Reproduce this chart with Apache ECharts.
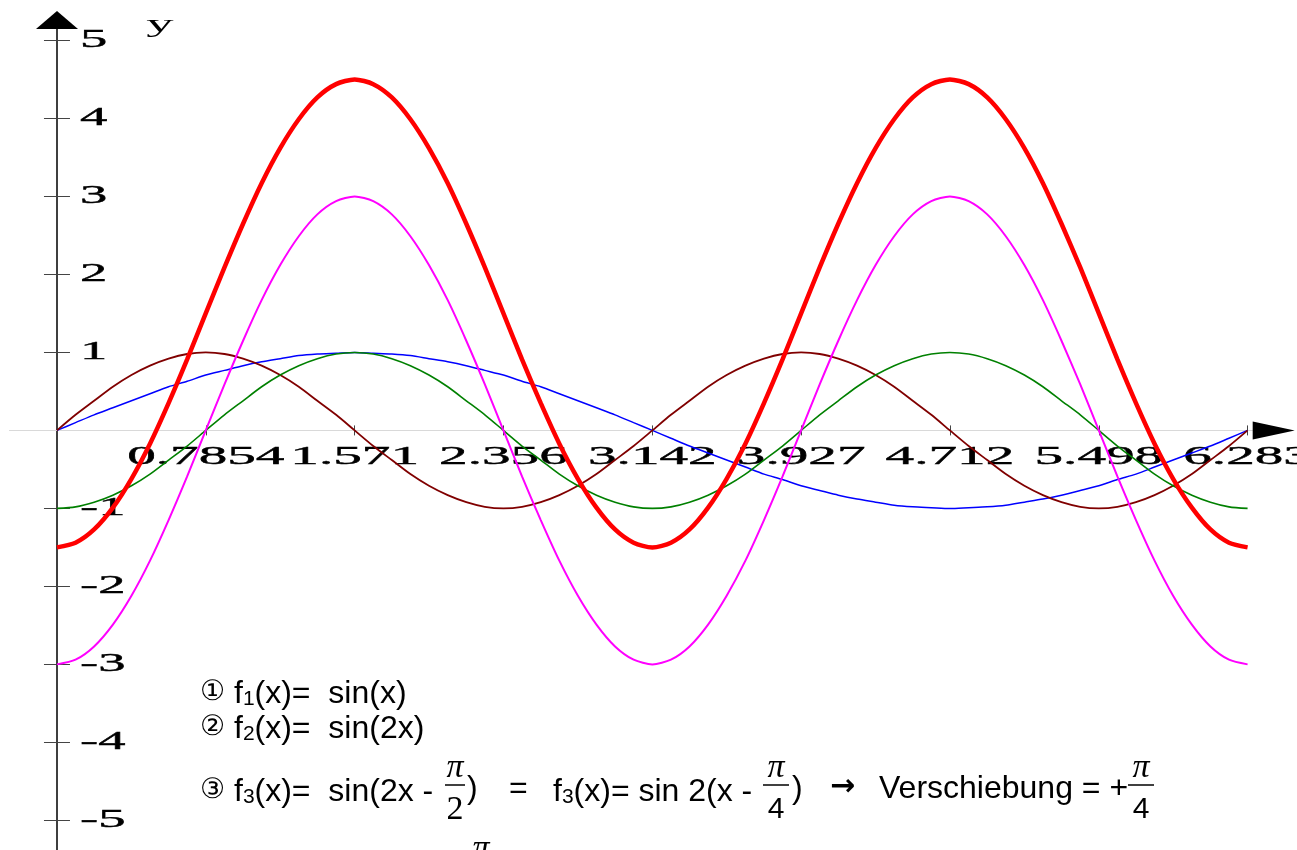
<!DOCTYPE html>
<html>
<head>
<meta charset="utf-8">
<title>Sinusfunktionen</title>
<script src="https://cdn.jsdelivr.net/npm/echarts@6/dist/echarts.min.js"></script>
<style>
  html, body { margin: 0; padding: 0; background: #ffffff; }
  #chart { width: 1297px; height: 850px; }
</style>
</head>
<body>
<div id="chart"></div>
<script>
// Sample positions along x (steps of pi/32 from 0 to 2pi)
const xValues = [0, 0.098, 0.196, 0.295, 0.393, 0.491, 0.589, 0.687, 0.785, 0.884, 0.982, 1.080, 1.178,
  1.276, 1.374, 1.473, 1.571, 1.669, 1.767, 1.865, 1.963, 2.062, 2.160, 2.258, 2.356, 2.454, 2.553, 2.651,
  2.749, 2.847, 2.945, 3.043, 3.142, 3.240, 3.338, 3.436, 3.534, 3.633, 3.731, 3.829, 3.927, 4.025, 4.123,
  4.222, 4.320, 4.418, 4.516, 4.614, 4.712, 4.811, 4.909, 5.007, 5.105, 5.203, 5.301, 5.400, 5.498, 5.596,
  5.694, 5.792, 5.890, 5.989, 6.087, 6.185, 6.283];

// f1(x) = sin(x)
const f1Values = [0, 0.1, 0.2, 0.29, 0.38, 0.47, 0.56, 0.63, 0.71, 0.77, 0.83, 0.88, 0.92, 0.96, 0.98, 0.99, 1,
  0.99, 0.98, 0.96, 0.92, 0.88, 0.83, 0.77, 0.71, 0.63, 0.56, 0.47, 0.38, 0.29, 0.2, 0.1, 0,
  -0.1, -0.2, -0.29, -0.38, -0.47, -0.56, -0.63, -0.71, -0.77, -0.83, -0.88, -0.92, -0.96, -0.98, -0.99, -1,
  -0.99, -0.98, -0.96, -0.92, -0.88, -0.83, -0.77, -0.71, -0.63, -0.56, -0.47, -0.38, -0.29, -0.2, -0.1, 0];

// f2(x) = sin(2x)
const f2Values = [0, 0.2, 0.38, 0.56, 0.71, 0.83, 0.92, 0.98, 1, 0.98, 0.92, 0.83, 0.71, 0.56, 0.38, 0.2, 0,
  -0.2, -0.38, -0.56, -0.71, -0.83, -0.92, -0.98, -1, -0.98, -0.92, -0.83, -0.71, -0.56, -0.38, -0.2, 0,
  0.2, 0.38, 0.56, 0.71, 0.83, 0.92, 0.98, 1, 0.98, 0.92, 0.83, 0.71, 0.56, 0.38, 0.2, 0,
  -0.2, -0.38, -0.56, -0.71, -0.83, -0.92, -0.98, -1, -0.98, -0.92, -0.83, -0.71, -0.56, -0.38, -0.2, 0];

// f3(x) = sin(2x - pi/2)
const f3Values = [-1, -0.98, -0.92, -0.83, -0.71, -0.56, -0.38, -0.2, 0, 0.2, 0.38, 0.56, 0.71, 0.83, 0.92, 0.98, 1,
  0.98, 0.92, 0.83, 0.71, 0.56, 0.38, 0.2, 0, -0.2, -0.38, -0.56, -0.71, -0.83, -0.92, -0.98, -1,
  -0.98, -0.92, -0.83, -0.71, -0.56, -0.38, -0.2, 0, 0.2, 0.38, 0.56, 0.71, 0.83, 0.92, 0.98, 1,
  0.98, 0.92, 0.83, 0.71, 0.56, 0.38, 0.2, 0, -0.2, -0.38, -0.56, -0.71, -0.83, -0.92, -0.98, -1];

// 3 * sin(2x - pi/2)
const f4Values = [-3, -2.94, -2.77, -2.49, -2.12, -1.67, -1.15, -0.59, 0, 0.59, 1.15, 1.67, 2.12, 2.49, 2.77, 2.94, 3,
  2.94, 2.77, 2.49, 2.12, 1.67, 1.15, 0.59, 0, -0.59, -1.15, -1.67, -2.12, -2.49, -2.77, -2.94, -3,
  -2.94, -2.77, -2.49, -2.12, -1.67, -1.15, -0.59, 0, 0.59, 1.15, 1.67, 2.12, 2.49, 2.77, 2.94, 3,
  2.94, 2.77, 2.49, 2.12, 1.67, 1.15, 0.59, 0, -0.59, -1.15, -1.67, -2.12, -2.49, -2.77, -2.94, -3];

// 3 * sin(2x - pi/2) + 1.5
const f5Values = [-1.5, -1.44, -1.27, -0.99, -0.62, -0.17, 0.35, 0.91, 1.5, 2.09, 2.65, 3.17, 3.62, 3.99, 4.27, 4.44, 4.5,
  4.44, 4.27, 3.99, 3.62, 3.17, 2.65, 2.09, 1.5, 0.91, 0.35, -0.17, -0.62, -0.99, -1.27, -1.44, -1.5,
  -1.44, -1.27, -0.99, -0.62, -0.17, 0.35, 0.91, 1.5, 2.09, 2.65, 3.17, 3.62, 3.99, 4.27, 4.44, 4.5,
  4.44, 4.27, 3.99, 3.62, 3.17, 2.65, 2.09, 1.5, 0.91, 0.35, -0.17, -0.62, -0.99, -1.27, -1.44, -1.5];

// Axis ticks and their labels
const xTickValues = [0.7854, 1.571, 2.356, 3.142, 3.927, 4.712, 5.498, 6.283];
const xTickLabels = ['0.7854', '1.571', '2.356', '3.142', '3.927', '4.712', '5.498', '6.283'];
const yTickValues = [-5, -4, -3, -2, -1, 1, 2, 3, 4, 5];
const yTickLabels = ['-5', '-4', '-3', '-2', '-1', '1', '2', '3', '4', '5'];

const X_MIN = -0.25, X_MAX = 6.31, Y_MIN = -5.38, Y_MAX = 5.16;

const chart = echarts.init(document.getElementById('chart'), null, { renderer: 'canvas' });

function pairs(values) {
  return xValues.map((x, i) => [x, values[i]]);
}

function curve(name, values, color, width) {
  return {
    name: name,
    type: 'line',
    data: pairs(values),
    smooth: 0.25,
    symbol: 'none',
    clip: false,
    lineStyle: { color: color, width: width },
    emphasis: { disabled: true },
    z: 3
  };
}

const tickStyle = { color: '#444', width: 1 };

chart.setOption({
  animation: false,
  backgroundColor: '#ffffff',
  grid: { left: 9.6, top: 28, width: 1243.1, bottom: 0, containLabel: false },
  xAxis: [
    {
      type: 'value', min: X_MIN, max: X_MAX, position: 'bottom',
      axisLine: { show: true, onZero: true, lineStyle: { color: '#d9d9d9', width: 1 } },
      axisTick: { show: true, customValues: xTickValues, length: 5, lineStyle: tickStyle },
      axisLabel: { show: false },
      splitLine: { show: false }
    },
    {
      type: 'value', min: X_MIN, max: X_MAX, position: 'top',
      axisLine: { show: true, onZero: true, lineStyle: { color: '#d9d9d9', width: 1 } },
      axisTick: { show: true, customValues: xTickValues, length: 5, lineStyle: tickStyle },
      axisLabel: { show: false },
      splitLine: { show: false }
    }
  ],
  yAxis: [
    {
      type: 'value', min: Y_MIN, max: Y_MAX, position: 'left',
      axisLine: { show: true, onZero: true, lineStyle: { color: '#333', width: 1.5 } },
      axisTick: { show: true, customValues: yTickValues, length: 13, lineStyle: tickStyle },
      axisLabel: { show: false },
      splitLine: { show: false }
    },
    {
      type: 'value', min: Y_MIN, max: Y_MAX, position: 'right',
      axisLine: { show: true, onZero: true, lineStyle: { color: '#333', width: 1.5 } },
      axisTick: { show: true, customValues: yTickValues, length: 13, lineStyle: tickStyle },
      axisLabel: { show: false },
      splitLine: { show: false }
    }
  ],
  series: [
    curve('f1', f1Values, '#0000ff', 1.5),
    curve('f2', f2Values, '#800000', 1.8),
    curve('f3', f3Values, '#008000', 1.6),
    curve('3 f3', f4Values, '#ff00ff', 2),
    curve('3 f3 + 1.5', f5Values, '#ff0000', 4.5)
  ]
});

// Axis decorations: stretched serif tick labels, arrows, axis name, formula notes
const px = v => chart.convertToPixel({ xAxisIndex: 0 }, v);
const py = v => chart.convertToPixel({ yAxisIndex: 0 }, v);
const x0 = px(0), y0 = py(0);
const xEnd = px(X_MAX), yTop = py(Y_MAX);

const SERIF = '"Liberation Serif", "Times New Roman", serif';
const SANS = '"Liberation Sans", Arial, sans-serif';
const elements = [];

xTickValues.forEach((v, i) => {
  elements.push({
    type: 'text', x: px(v), y: y0 + 27, scaleX: 2.2, z: 1,
    style: { text: xTickLabels[i], x: 0, y: 0, align: 'center', verticalAlign: 'middle',
      font: '26px ' + SERIF, fill: '#000', stroke: '#000', lineWidth: 0.4 }
  });
});
yTickValues.forEach((v, i) => {
  elements.push({
    type: 'text', x: x0 + 23, y: py(v), scaleX: 2.1, z: 1,
    style: { text: yTickLabels[i], x: 0, y: 0, align: 'left', verticalAlign: 'middle',
      font: '26px ' + SERIF, fill: '#000', stroke: '#000', lineWidth: 0.4 }
  });
});

// axis name
elements.push({
  type: 'text', x: 160, y: 25, scaleX: 2.1, z: 1,
  style: { text: 'y', x: 0, y: 0, align: 'center', verticalAlign: 'middle', font: '26px ' + SERIF, fill: '#000' }
});

// arrow heads
elements.push({
  type: 'polygon', z: 5,
  shape: { points: [[x0 - 21, yTop + 1], [x0 + 21, yTop + 1], [x0, yTop - 17]] },
  style: { fill: '#000' }
});
elements.push({
  type: 'polygon', z: 5,
  shape: { points: [[xEnd, y0 - 9], [xEnd, y0 + 9], [xEnd + 42, y0]] },
  style: { fill: '#000' }
});

// formula notes
const noteRich = {
  c: { font: '28px "DejaVu Sans", sans-serif', lineHeight: 36, verticalAlign: 'bottom', padding: [0, 0, 3, 0] },
  m: { font: '32px ' + SANS, lineHeight: 36, verticalAlign: 'bottom' },
  s: { font: '21px ' + SANS, lineHeight: 21, verticalAlign: 'bottom' }
};
function note(text, x, y) {
  elements.push({
    type: 'text', x: x, y: y, z: 4,
    style: { text: text, x: 0, y: 0, align: 'left', verticalAlign: 'middle', fill: '#000', rich: noteRich }
  });
}
function plain(text, x, y, font, align) {
  elements.push({
    type: 'text', x: x, y: y, z: 4,
    style: { text: text, x: 0, y: 0, align: align || 'left', verticalAlign: 'middle', font: font, fill: '#000' }
  });
}
function fraction(cx, halfWidth, denom, denomFont) {
  plain('π', cx, 768, 'italic 34px ' + SERIF, 'center');
  elements.push({
    type: 'line', z: 4,
    shape: { x1: cx - halfWidth, y1: 785, x2: cx + halfWidth, y2: 785 },
    style: { stroke: '#000', lineWidth: 1.5 }
  });
  plain(denom, cx, 810, denomFont, 'center');
}

note('{c|①}{m| f}{s|1}{m|(x)=  sin(x)}', 200, 692);
note('{c|②}{m| f}{s|2}{m|(x)=  sin(2x)}', 200, 727);
note('{c|③}{m| f}{s|3}{m|(x)=  sin(2x - }', 200, 790);
fraction(455, 10, '2', '34px ' + SERIF);
plain(')', 467, 789, '32px ' + SANS);
plain('=', 509, 789, '32px ' + SANS);
note('{m|f}{s|3}{m|(x)= sin 2(x - }', 553, 790);
fraction(776, 13, '4', '30px ' + SANS);
plain(')', 792, 789, '32px ' + SANS);
plain('→', 830, 787, 'bold 30px "DejaVu Sans", sans-serif');
plain('Verschiebung = +', 879, 789, '32px ' + SANS);
fraction(1141, 13, '4', '30px ' + SANS);
plain('π', 481, 849, 'italic 34px ' + SERIF, 'center');

chart.setOption({ graphic: { elements: elements } });
</script>
</body>
</html>
